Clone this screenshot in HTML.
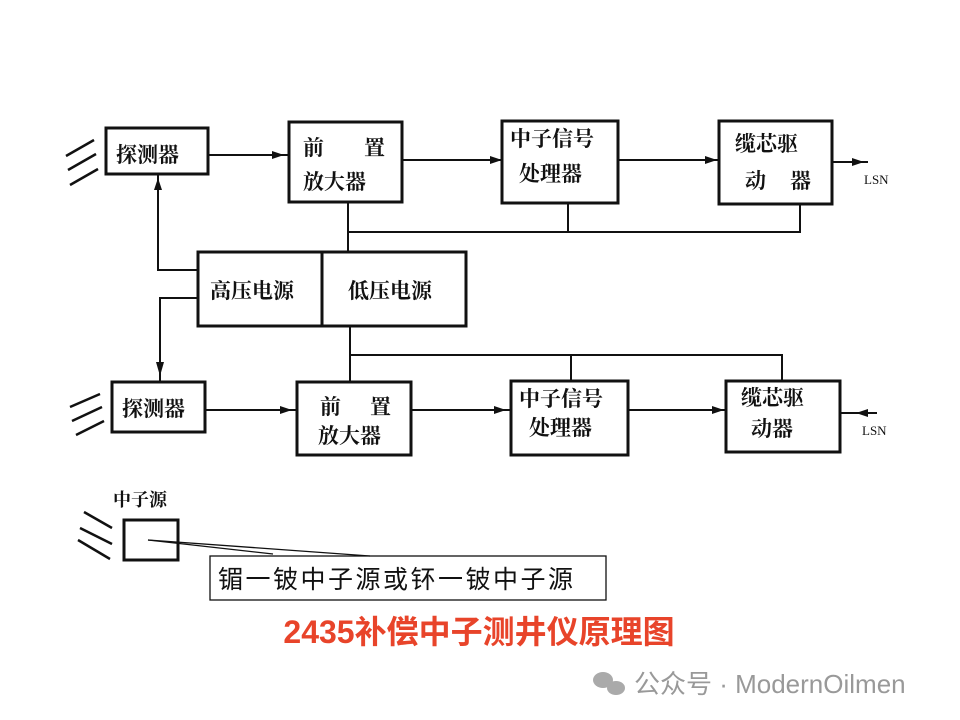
<!DOCTYPE html>
<html><head><meta charset="utf-8"><style>
body{margin:0;background:#fff;}
svg{display:block}
.t{font-family:"Liberation Serif","Noto Serif CJK SC",serif;font-size:21px;fill:#111;font-weight:bold}
</style></head><body>
<svg width="960" height="720" viewBox="0 0 960 720" xmlns="http://www.w3.org/2000/svg">
<g fill="none" stroke="#111" stroke-width="3">
<rect x="106" y="128" width="102" height="46"/>
<rect x="289" y="122" width="113" height="80"/>
<rect x="502" y="121" width="116" height="82"/>
<rect x="719" y="121" width="113" height="83"/>
<rect x="198" y="252" width="268" height="74"/>
<line x1="322" y1="252" x2="322" y2="326"/>
<rect x="112" y="382" width="93" height="50"/>
<rect x="297" y="382" width="114" height="73"/>
<rect x="511" y="381" width="117" height="74"/>
<rect x="726" y="381" width="114" height="71"/>
<rect x="124" y="520" width="54" height="40"/>
</g>
<g stroke="#111" stroke-width="2" fill="none">
<line x1="208" y1="155" x2="289" y2="155"/>
<line x1="402" y1="160" x2="502" y2="160"/>
<line x1="618" y1="160" x2="719" y2="160"/>
<line x1="832" y1="162" x2="868" y2="162"/>
<polyline points="158,174 158,270 198,270"/>
<polyline points="198,298 160,298 160,382"/>
<line x1="348" y1="202" x2="348" y2="252"/>
<polyline points="348,232 800,232 800,204"/>
<line x1="568" y1="203" x2="568" y2="232"/>
<line x1="350" y1="326" x2="350" y2="382"/>
<polyline points="350,355 782,355 782,381"/>
<line x1="571" y1="355" x2="571" y2="381"/>
<line x1="205" y1="410" x2="297" y2="410"/>
<line x1="411" y1="410" x2="511" y2="410"/>
<line x1="628" y1="410" x2="726" y2="410"/>
<line x1="840" y1="413" x2="877" y2="413"/>
</g>
<g fill="#111">
<path d="M272,151 l12,4 l-12,4z"/><path d="M490,156 l12,4 l-12,4z"/><path d="M705,156 l12,4 l-12,4z"/><path d="M852,158 l12,4 l-12,4z"/>
<path d="M154,190 l4,-12 l4,12z"/>
<path d="M156,362 l8,0 l-4,14z"/>
<path d="M280,406 l12,4 l-12,4z"/><path d="M494,406 l12,4 l-12,4z"/><path d="M712,406 l12,4 l-12,4z"/><path d="M868,409 l-12,4 l12,4z"/>
</g>
<g stroke="#111" stroke-width="2.5">
<line x1="66" y1="156" x2="94" y2="140"/><line x1="68" y1="170" x2="96" y2="154"/><line x1="70" y1="185" x2="98" y2="169"/>
<line x1="70" y1="407" x2="100" y2="394"/><line x1="72" y1="421" x2="102" y2="407"/><line x1="76" y1="435" x2="104" y2="421"/>
<line x1="84" y1="512" x2="112" y2="528"/><line x1="80" y1="528" x2="112" y2="544"/><line x1="78" y1="540" x2="110" y2="559"/>
</g>
<g stroke="#111" stroke-width="1.3" fill="none">
<polyline points="148,540 273,554"/>
<polyline points="148,540 370,556"/>
<rect x="210" y="556" width="396" height="44"/>
</g>
<text class="t" x="116" y="162">探测器</text>
<text class="t" x="303" y="155">前</text><text class="t" x="364" y="155">置</text>
<text class="t" x="303" y="189">放大器</text>
<text class="t" x="510" y="146">中子信号</text>
<text class="t" x="519" y="181">处理器</text>
<text class="t" x="735" y="151">缆芯驱</text>
<text class="t" x="745" y="188">动</text><text class="t" x="790" y="188">器</text>
<text x="864" y="184" font-family="Liberation Serif,serif" font-size="13" fill="#111">LSN</text>
<text class="t" x="210" y="298">高压电源</text>
<text class="t" x="348" y="298">低压电源</text>
<text class="t" x="122" y="416">探测器</text>
<text class="t" x="320" y="414">前</text><text class="t" x="370" y="414">置</text>
<text class="t" x="318" y="443">放大器</text>
<text class="t" x="519" y="406">中子信号</text>
<text class="t" x="529" y="435">处理器</text>
<text class="t" x="741" y="405">缆芯驱</text>
<text class="t" x="751" y="436">动器</text>
<text x="862" y="435" font-family="Liberation Serif,serif" font-size="13" fill="#111">LSN</text>
<text class="t" x="113" y="506" style="font-size:18px">中子源</text>
<text x="218" y="588" font-family="Liberation Sans,Noto Sans CJK SC,sans-serif" font-size="25" letter-spacing="2.5" fill="#111">镅一铍中子源或钚一铍中子源</text>
<text x="479" y="643" text-anchor="middle" font-family="Liberation Sans,Noto Sans CJK SC,sans-serif" font-size="32" font-weight="bold" fill="#e8442a">2435补偿中子测井仪原理图</text>
<g fill="#aaa"><ellipse cx="603" cy="680" rx="10" ry="8"/><ellipse cx="616" cy="688" rx="9" ry="7"/></g>
<text x="634" y="693" font-family="Liberation Sans,Noto Sans CJK SC,sans-serif" font-size="26" fill="#999">公众号 · ModernOilmen</text>
</svg>
</body></html>
